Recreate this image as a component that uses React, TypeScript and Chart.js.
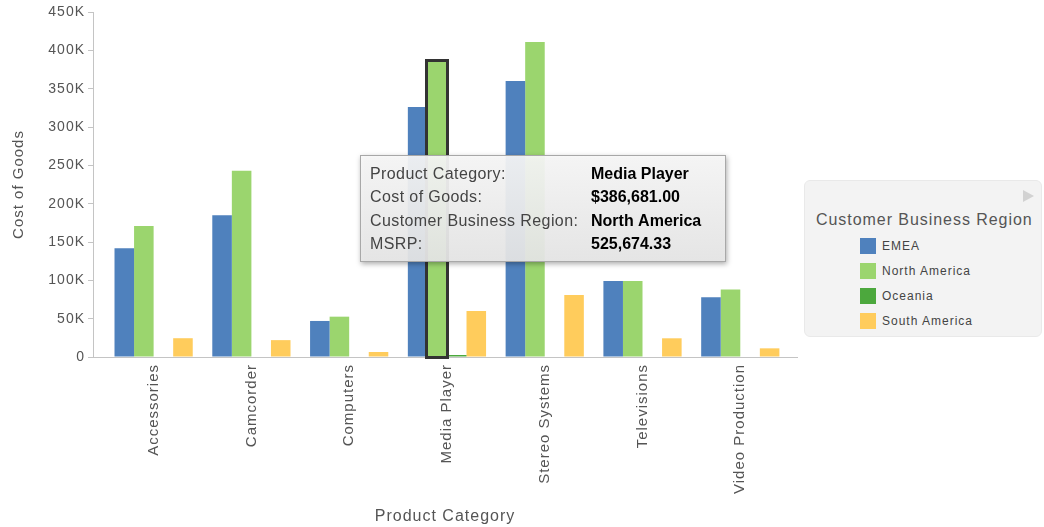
import React, { useEffect, useRef } from 'react';
import { Chart, registerables } from 'chart.js';

Chart.register(...registerables);

const categories = ['Accessories', 'Camcorder', 'Computers', 'Media Player', 'Stereo Systems', 'Televisions', 'Video Production'];
const emea = [142000, 185000, 47000, 326000, 360000, 99000, 78000];
const northAmerica = [171000, 243000, 52600, 386681, 411000, 99000, 88000];
const oceania = [null, null, null, 2600, null, null, null];
const southAmerica = [24500, 22000, 6500, 60000, 81000, 24400, 11300];
const seriesNames = ['EMEA', 'North America', 'Oceania', 'South America'];
const seriesColors = ['#4F81BD', '#9BD56E', '#4CA83D', '#FFCC5C'];
const yMax = 450000;
const yStep = 50000;
const tooltipLabels = ['Product Category:', 'Cost of Goods:', 'Customer Business Region:', 'MSRP:'];
const tooltipValues = ['Media Player', '$386,681.00', 'North America', '525,674.33'];
const highlightDataset = 1;
const highlightIndex = 3;

const FONT = '"Liberation Sans", Arial, Helvetica, sans-serif';

const spacingPlugin = {
  id: 'spacing',
  beforeLayout(chart: any) { chart.ctx.letterSpacing = '1px'; },
  beforeDraw(chart: any) { chart.ctx.letterSpacing = '1px'; },
};

const calloutPlugin = {
  id: 'callout',
  afterDraw(chart: any) {
    const el = chart.getDatasetMeta(highlightDataset).data[highlightIndex];
    if (!el) return;
    const ctx = chart.ctx as CanvasRenderingContext2D;
    const { x, y, base, width } = el.getProps(['x', 'y', 'base', 'width'], true);
    ctx.save();
    (ctx as any).letterSpacing = '0px';
    ctx.strokeStyle = '#333333';
    ctx.lineWidth = 3;
    ctx.strokeRect(Math.round(x - width / 2) - 0.5, Math.round(y) - 0.5, Math.round(width) + 1, Math.round(base - y) + 1);

    const bx = Math.round(x - 77);
    const by = Math.round(y + 94);
    const bw = 366;
    const bh = 107;
    ctx.shadowColor = 'rgba(0,0,0,0.35)';
    ctx.shadowBlur = 5;
    ctx.shadowOffsetX = 1;
    ctx.shadowOffsetY = 2;
    const g = ctx.createLinearGradient(0, by, 0, by + bh);
    g.addColorStop(0, 'rgba(250,250,250,0.92)');
    g.addColorStop(1, 'rgba(233,233,233,0.92)');
    ctx.fillStyle = g;
    ctx.fillRect(bx, by, bw, bh);
    ctx.shadowColor = 'rgba(0,0,0,0)';
    ctx.strokeStyle = '#a8a8a8';
    ctx.lineWidth = 1;
    ctx.strokeRect(bx + 0.5, by + 0.5, bw - 1, bh - 1);

    ctx.textBaseline = 'middle';
    ctx.textAlign = 'left';
    const rowY = [19.5, 43, 66.5, 89.5];
    for (let i = 0; i < tooltipLabels.length; i++) {
      (ctx as any).letterSpacing = '0.4px';
      ctx.font = `16px ${FONT}`;
      ctx.fillStyle = '#444444';
      ctx.fillText(tooltipLabels[i], bx + 10, by + rowY[i]);
      (ctx as any).letterSpacing = '0px';
      ctx.font = `bold 16px ${FONT}`;
      ctx.fillStyle = '#000000';
      ctx.fillText(tooltipValues[i], bx + 231, by + rowY[i]);
    }
    ctx.restore();
  },
};

export default function App() {
  const canvasRef = useRef<HTMLCanvasElement | null>(null);

  useEffect(() => {
    const canvas = canvasRef.current;
    if (!canvas) return;
    const seriesData = [emea, northAmerica, oceania, southAmerica];
    const chart = new Chart(canvas, {
      type: 'bar',
      data: {
        datasets: seriesData.map((arr, s) => ({
          label: seriesNames[s],
          data: arr.map((v, i) => ({ x: i, y: v })),
          backgroundColor: seriesColors[s],
          borderWidth: 0,
          categoryPercentage: 0.8,
          barPercentage: 1.0,
        })),
      },
      options: {
        responsive: false,
        animation: false,
        events: [],
        layout: { padding: { top: 12, right: 247, left: 0, bottom: 0 } },
        plugins: {
          legend: { display: false },
          tooltip: { enabled: false },
        },
        scales: {
          x: {
            type: 'linear',
            min: -0.62,
            max: 6.58,
            offset: false,
            afterBuildTicks: (scale: any) => {
              scale.ticks = categories.map((_, i) => ({ value: i }));
            },
            afterFit: (scale: any) => { scale.height = 170; },
            grid: { display: false, drawTicks: false },
            border: { display: true, color: '#c4c4c4', width: 1 },
            ticks: {
              autoSkip: false,
              minRotation: 90,
              maxRotation: 90,
              padding: 7,
              color: '#555555',
              font: { family: FONT, size: 15 },
              callback: (v: any) => categories[v] ?? '',
            },
            title: {
              display: true,
              text: 'Product Category',
              color: '#555555',
              font: { family: FONT, size: 16 },
              padding: { top: 0, bottom: 1 },
            },
          },
          y: {
            min: 0,
            max: yMax,
            afterFit: (scale: any) => { scale.width = 93; },
            grid: { drawOnChartArea: false, drawTicks: true, tickLength: 5, color: '#c4c4c4' },
            border: { display: true, color: '#c4c4c4', width: 1 },
            ticks: {
              stepSize: yStep,
              padding: 3,
              color: '#555555',
              font: { family: FONT, size: 14 },
              callback: (v: any) => (v === 0 ? '0' : `${v / 1000}K`),
            },
            title: {
              display: true,
              text: 'Cost of Goods',
              color: '#555555',
              font: { family: FONT, size: 15 },
              padding: { top: 10, bottom: 0 },
            },
          },
        },
      } as any,
      plugins: [spacingPlugin, calloutPlugin],
    });
    return () => chart.destroy();
  }, []);

  return (
    <div style={{ position: 'absolute', left: 0, top: 0, width: 1044, height: 527, overflow: 'hidden', background: '#ffffff' }}>
      <canvas ref={canvasRef} width={1044} height={527} style={{ position: 'absolute', left: 0, top: 0 }} />
      <div
        style={{
          position: 'absolute', left: 804, top: 180, width: 238, height: 157,
          background: '#f3f3f3', border: '1px solid #e9e9e9', borderRadius: 6, boxSizing: 'border-box',
          fontFamily: FONT,
        }}
      >
        <div style={{ position: 'absolute', left: 218, top: 9, width: 0, height: 0, borderLeft: '11px solid #d2d2d2', borderTop: '6px solid transparent', borderBottom: '6px solid transparent' }} />
        <div style={{ position: 'absolute', left: 11, top: 29, fontSize: 16, lineHeight: '20px', color: '#555555', letterSpacing: '0.95px', whiteSpace: 'nowrap' }}>
          Customer Business Region
        </div>
        {seriesNames.map((name, i) => (
          <div key={name} style={{ position: 'absolute', left: 55, top: 57 + i * 25, height: 16, display: 'flex', alignItems: 'center', whiteSpace: 'nowrap' }}>
            <div style={{ width: 16, height: 16, background: seriesColors[i], marginRight: 6 }} />
            <span style={{ fontSize: 12, color: '#444444', letterSpacing: '1px' }}>{name}</span>
          </div>
        ))}
      </div>
    </div>
  );
}
